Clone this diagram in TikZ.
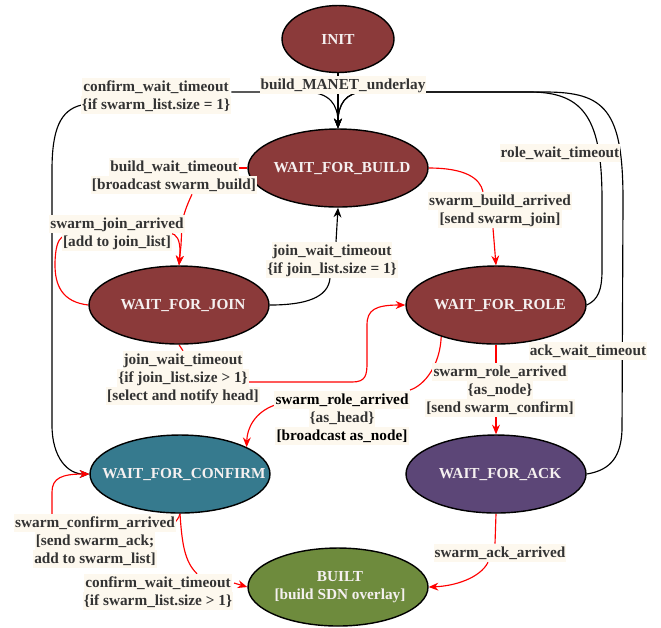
\documentclass[tikz,border=0pt]{standalone}
\usepackage{fontspec}
\setmainfont{Liberation Serif}
\usetikzlibrary{shapes.geometric,arrows.meta,calc}
\definecolor{nred}{HTML}{8B3A3A}
\definecolor{nteal}{HTML}{367A8E}
\definecolor{npurple}{HTML}{5C4677}
\definecolor{ngreen}{HTML}{6E8B3D}
\definecolor{lblbg}{HTML}{FDF8EE}
\definecolor{lbltxt}{HTML}{333333}
\definecolor{nodetxt}{HTML}{F5F0F0}
\setlength{\fboxsep}{0pt}
\newcommand\lbx[1]{\colorbox{lblbg}{\rule[-2.6pt]{0pt}{10.2pt}\hspace{0.6pt}#1\hspace{0.6pt}}}
\newcommand\stt[1]{\makebox[0pt]{\hspace{0.16cm}#1}}
\pgfdeclarelayer{bg}
\pgfsetlayers{bg,main}
\begin{document}
\begin{tikzpicture}[x=0.02cm,y=-0.02cm,
  >={Stealth[length=5.5pt,width=4.5pt]},
  st/.style={ellipse,draw=black,line width=0.8pt,minimum width=3.6cm,minimum height=1.56cm,inner sep=0pt,text=nodetxt,font=\fontsize{8.7}{10.2}\selectfont\bfseries},
  lb/.style={inner sep=0pt,align=center,text=lbltxt,font=\fontsize{8.7}{10.2}\selectfont\bfseries},
  blk/.style={draw=black,line width=0.65pt},
  rd/.style={draw=red,line width=0.65pt}]
\useasboundingbox (0,0) rectangle (661,627);
% states
\node[st,fill=nred,minimum width=2.24cm,minimum height=1.34cm] (init) at (338,39) {\makebox[0pt]{INIT}};
\node[st,fill=nred] (wfb) at (338,168) {\stt{WAIT\_FOR\_BUILD}};
\node[st,fill=nred] (wfj) at (179,305) {\stt{WAIT\_FOR\_JOIN}};
\node[st,fill=nred] (wfr) at (496,305) {\stt{WAIT\_FOR\_ROLE}};
\node[st,fill=nteal] (wfc) at (180,474) {\stt{WAIT\_FOR\_CONFIRM}};
\node[st,fill=npurple] (wfa) at (496,474) {\stt{WAIT\_FOR\_ACK}};
\node[st,fill=ngreen] (built) at (338,587) {\makebox[0pt]{\hspace{0.08cm}\begin{tabular}{@{}c@{}}BUILT\\{[build SDN overlay]}\end{tabular}}};
% labels
\node[lb] (lManet) at (343,85) {\lbx{build\_MANET\_underlay}};
\node[lb] (lCwt1) at (156,96) {\lbx{confirm\_wait\_timeout}\\\lbx{\{if swarm\_list.size = 1\}}};
\node[lb] (lBwt) at (174,176) {\lbx{build\_wait\_timeout}\\\lbx{[broadcast swarm\_build]}};
\node[lb] (lSba) at (500,210) {\lbx{swarm\_build\_arrived}\\\lbx{[send swarm\_join]}};
\node[lb] (lRwt) at (560,153) {\lbx{role\_wait\_timeout}};
\node[lb] (lSja) at (117,233) {\lbx{swarm\_join\_arrived}\\\lbx{[add to join\_list]}};
\node[lb] (lJwt1) at (332,260) {\lbx{join\_wait\_timeout}\\\lbx{\{if join\_list.size = 1\}}};
\node[lb] (lJwt2) at (183,378) {\lbx{join\_wait\_timeout}\\\lbx{\{if join\_list.size > 1\}}\\\lbx{[select and notify head]}};
\node[lb] (lSrn) at (500,390) {\lbx{swarm\_role\_arrived}\\\lbx{\{as\_node\}}\\\lbx{[send swarm\_confirm]}};
\node[lb] (lAwt) at (588,351) {\lbx{ack\_wait\_timeout}};
\node[lb] (lSrh) at (342,418) {\lbx{\color{black}swarm\_role\_arrived}\\\lbx{\{as\_head\}}\\\lbx{\color{black}[broadcast as\_node]}};
\node[lb] (lSca) at (95,541) {\lbx{swarm\_confirm\_arrived}\\\lbx{[send swarm\_ack;}\\\lbx{add to swarm\_list]}};
\node[lb] (lCwt2) at (158,592) {\lbx{confirm\_wait\_timeout}\\\lbx{\{if swarm\_list.size > 1\}}};
\node[lb] (lSaa) at (500,553) {\lbx{swarm\_ack\_arrived}};
% connectors
\begin{pgfonlayer}{bg}
\draw[blk,->] (init.south) -- (wfb.north);
% confirm_wait_timeout (=1)
\draw[blk,->] ($(lCwt1.east)+(0,-4)$) -- (305,92) .. controls (330,92) and (338,105) .. (wfb.north);
\draw[blk,->] ($(lCwt1.west)+(1,9)$) .. controls (60,110) and (52,130) .. (52,170) -- (52,425) .. controls (52,458) and (68,474) .. (wfc.west);
% role_wait_timeout
\draw[blk,->] (wfr.east) .. controls (598,300) and (602,290) .. (602,270) -- (602,200) .. controls (602,120) and (585,92) .. (530,92) -- (365,92) .. controls (345,92) and (338,105) .. (wfb.north);
% ack_wait_timeout
\draw[blk,->] (wfa.east) .. controls (612,470) and (621,455) .. (622,430) -- (623,200) .. controls (623,110) and (605,92) .. (545,92) -- (365,92) .. controls (345,92) and (338,105) .. (wfb.north);
% build_wait_timeout
\draw[rd] (wfb.west) -- ($(lBwt.center)+(63,-8)$);
\draw[rd,->] ($(lBwt.south)+(18,0)$) .. controls (187,205) and (183,215) .. (182,225) -- (181,245) -- (wfj.north);
% swarm_join_arrived (self loop)
\draw[rd] (wfj.west) .. controls (62,302) and (55,285) .. (55,265) .. controls (55,248) and (58,240) .. ($(lSja.center)+(-55,4)$);
\draw[rd,->] ($(lSja.center)+(53,0)$) .. controls (177,234) and (180,240) .. (180,252) -- (wfj.north);
% join_wait_timeout (=1)
\draw[blk] (wfj.east) .. controls (305,305) and (328,298) .. ($(lJwt1.south)+(-2,0)$);
\draw[blk,->] ($(lJwt1.north)+(4,0)$) -- (wfb.south);
% swarm_build_arrived
\draw[rd] (wfb.east) .. controls (465,168) and (480,178) .. ($(lSba.north)+(-17,0)$);
\draw[rd,->] ($(lSba.south)+(-7,0)$) -- (wfr.north);
% join_wait_timeout (>1)
\draw[rd] (wfj.south) -- (lJwt2.north);
\draw[rd,->] ($(lJwt2.center)+(60,4)$) -- (352,382) .. controls (366,382) and (367,375) .. (367,362) -- (367,325) .. controls (367,310) and (375,305) .. (wfr.west);
% swarm_role_arrived as_head
\draw[rd] (wfr.210) .. controls (440,365) and (425,385) .. ($(lSrh.center)+(68,-28)$);
\draw[rd,->] ($(lSrh.center)+(-67,-13)$) .. controls (255,412) and (247,428) .. (wfc.22);
% swarm_role_arrived as_node
\draw[rd] (wfr.south) -- ($(lSrn.north)+(-4,0)$);
\draw[rd,->] ($(lSrn.south)+(-4,0)$) -- (wfa.north);
% swarm_confirm_arrived (self loop)
\draw[rd] (wfc.south) .. controls (178,522) and (170,528) .. ($(lSca.center)+(57,-9)$);
\draw[rd,->] ($(lSca.north)+(-43,0)$) -- (52,492) .. controls (52,478) and (62,474) .. (wfc.west);
% confirm_wait_timeout (>1)
\draw[rd] (wfc.south) .. controls (182,545) and (185,562) .. ($(lCwt2.north)+(39,0)$);
\draw[rd,->] ($(lCwt2.center)+(76,-9)$) -- (built.west);
% swarm_ack_arrived
\draw[rd] (wfa.south) -- ($(lSaa.north)+(-5,0)$);
\draw[rd,->] ($(lSaa.south)+(-12,0)$) .. controls (480,578) and (455,586) .. (built.east);
\end{pgfonlayer}
\end{tikzpicture}
\end{document}
